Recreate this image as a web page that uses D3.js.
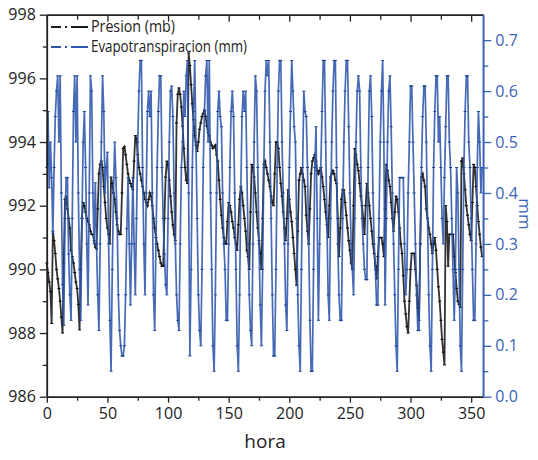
<!DOCTYPE html>
<html><head><meta charset="utf-8">
<script src="https://cdn.jsdelivr.net/npm/d3@7"></script>
<style>
body{margin:0;background:#fff;}
text{font-family:"Open Sans","Noto Sans",sans-serif;}
</style></head>
<body><svg id="c" width="538" height="460"></svg>
<script>
// ---- data (hourly) ----
const presion = [
990.2,989.9,989.6,989.3,988.3,991.2,990.9,990.5,990.0,989.7,989.4,989.0,988.5,988.0,990.2,992.2,992.3,991.9,991.6,991.3,
990.6,990.4,990.2,989.9,989.6,989.4,988.9,988.1,990.0,991.6,992.1,992.0,991.8,991.6,991.5,991.4,991.2,991.1,991.1,990.9,
990.7,990.65,991.9,993.0,993.3,993.4,993.2,992.6,992.1,991.6,991.3,991.1,990.8,992.9,992.7,992.4,992.2,991.8,991.4,991.2,
991.1,991.1,992.4,993.8,993.85,993.6,993.3,993.0,992.8,992.7,992.6,992.5,993.4,994.2,994.1,993.6,993.2,993.0,992.8,992.6,
992.4,992.2,992.1,992.0,992.2,992.4,992.3,992.0,991.6,991.3,991.0,990.8,990.6,990.4,990.2,990.1,990.1,991.6,992.9,993.4,
993.3,992.8,992.3,991.8,991.4,991.1,990.9,994.6,995.5,995.7,995.5,995.1,994.5,993.8,993.2,992.8,992.7,996.8,996.4,995.8,
995.2,994.7,994.2,993.9,993.7,994.0,994.4,994.6,994.8,994.9,995.0,994.8,994.5,994.3,994.2,994.0,993.9,993.8,993.85,993.9,
993.6,993.4,992.8,992.2,991.7,991.3,991.0,990.8,990.8,991.5,992.1,992.0,991.8,991.5,991.3,991.0,990.8,990.6,991.4,992.2,
992.6,992.4,992.0,991.6,991.2,990.6,990.4,990.0,991.8,993.3,993.2,992.9,992.4,991.8,991.3,990.9,990.5,990.0,991.6,993.3,
993.4,993.2,993.0,992.8,992.6,992.3,992.1,992.0,993.0,994.0,994.0,993.8,993.2,992.7,992.3,991.8,991.3,990.9,991.6,992.5,
992.2,991.8,991.5,991.0,990.5,990.0,989.5,991.2,992.8,993.0,993.2,993.0,992.8,992.6,991.7,991.2,990.8,991.9,993.0,993.4,
993.5,993.6,993.4,993.1,993.0,993.1,993.2,992.9,992.6,992.2,991.8,991.4,991.0,992.0,992.9,993.0,993.1,993.0,992.8,992.7,
991.6,990.4,991.3,992.2,992.5,992.5,992.1,991.7,991.3,990.9,990.6,990.2,990.0,992.0,993.8,993.6,993.3,993.1,992.7,992.3,
992.0,991.6,991.1,992.0,992.7,992.4,992.0,991.6,991.2,990.8,990.5,990.1,989.7,990.4,991.0,991.0,991.0,990.8,990.4,991.9,
993.3,993.1,992.8,992.6,992.1,991.6,991.2,991.8,992.3,992.2,991.8,991.3,990.8,990.5,989.8,989.0,988.6,988.2,988.0,989.0,
990.0,990.5,990.5,990.5,990.0,989.5,988.8,988.4,990.8,992.9,993.0,992.8,992.6,991.9,991.6,991.3,991.1,990.8,990.5,990.8,
991.0,990.6,990.0,989.45,989.0,988.4,987.8,987.4,987.0,992.0,991.5,990.1,991.1,991.1,991.1,991.1,990.4,989.9,989.4,989.0,
988.9,988.8,993.4,993.5,993.0,992.5,992.0,991.7,991.4,991.1,990.9,992.1,993.3,993.2,992.6,992.0,991.5,991.1,990.7,990.4
];
const evapo = [
0.45,0.56,0.41,0.50,0.43,0.32,0.45,0.55,0.60,0.63,0.50,0.63,0.40,0.22,0.14,0.35,0.43,0.43,0.28,0.20,
0.15,0.35,0.56,0.63,0.50,0.63,0.40,0.25,0.15,0.35,0.50,0.56,0.45,0.30,0.18,0.40,0.63,0.60,0.40,0.30,
0.42,0.30,0.20,0.13,0.30,0.50,0.63,0.56,0.40,0.45,0.48,0.30,0.15,0.05,0.25,0.40,0.50,0.43,0.35,0.20,
0.13,0.10,0.08,0.08,0.10,0.20,0.33,0.43,0.30,0.18,0.30,0.43,0.30,0.20,0.35,0.50,0.60,0.66,0.66,0.45,
0.30,0.20,0.40,0.56,0.60,0.55,0.60,0.40,0.20,0.13,0.30,0.45,0.56,0.63,0.63,0.45,0.35,0.28,0.22,0.20,
0.35,0.50,0.60,0.61,0.55,0.40,0.30,0.20,0.15,0.13,0.30,0.45,0.50,0.60,0.55,0.63,0.66,0.40,0.08,0.25,
0.45,0.56,0.66,0.50,0.35,0.20,0.13,0.10,0.25,0.45,0.56,0.63,0.66,0.50,0.66,0.40,0.25,0.10,0.05,0.20,
0.40,0.56,0.60,0.55,0.53,0.40,0.30,0.25,0.15,0.15,0.30,0.45,0.56,0.60,0.55,0.40,0.25,0.10,0.05,0.20,
0.40,0.55,0.60,0.56,0.60,0.45,0.30,0.20,0.13,0.10,0.30,0.50,0.63,0.60,0.45,0.30,0.18,0.10,0.25,0.45,
0.60,0.66,0.63,0.66,0.50,0.35,0.20,0.08,0.08,0.25,0.45,0.60,0.66,0.66,0.50,0.40,0.30,0.18,0.13,0.30,
0.45,0.56,0.66,0.60,0.53,0.50,0.35,0.20,0.10,0.05,0.25,0.45,0.60,0.56,0.55,0.45,0.30,0.15,0.05,0.05,
0.25,0.45,0.53,0.35,0.15,0.30,0.45,0.56,0.66,0.66,0.50,0.35,0.20,0.15,0.35,0.50,0.60,0.66,0.66,0.45,
0.30,0.20,0.15,0.15,0.35,0.50,0.60,0.66,0.66,0.53,0.40,0.30,0.25,0.20,0.35,0.50,0.60,0.63,0.60,0.45,
0.35,0.30,0.25,0.23,0.23,0.45,0.60,0.63,0.55,0.40,0.30,0.25,0.18,0.18,0.35,0.50,0.60,0.66,0.50,0.18,
0.35,0.50,0.60,0.63,0.53,0.40,0.30,0.20,0.10,0.05,0.25,0.43,0.43,0.43,0.43,0.30,0.20,0.25,0.40,0.50,
0.61,0.61,0.50,0.40,0.30,0.20,0.13,0.13,0.30,0.45,0.55,0.61,0.61,0.50,0.35,0.20,0.10,0.05,0.25,0.45,
0.56,0.63,0.63,0.50,0.55,0.45,0.35,0.30,0.43,0.53,0.63,0.63,0.50,0.45,0.35,0.25,0.15,0.25,0.45,0.40,
0.25,0.10,0.05,0.25,0.45,0.56,0.63,0.63,0.50,0.45,0.35,0.25,0.15,0.15,0.30,0.45,0.56,0.50,0.40,0.45
];
const hours = presion.map((d,i)=>i);
const xTicks = [0,50,100,150,200,250,300,350];
const xMinor = [25,75,125,175,225,275,325];
const yLeftTicks = [986,988,990,992,994,996,998];
const yLeftMinor = [987,989,991,993,995,997];
const yRightTicks = [0.0,0.1,0.2,0.3,0.4,0.5,0.6,0.7];
const yRightMinor = [0.05,0.15,0.25,0.35,0.45,0.55,0.65];
const seriesNames = ["Presion (mb)","Evapotranspiracion (mm)"];
const xLabel = "hora", yRightLabel = "mm";

// ---- layout ----
const L=46.8, R=483.3, T=14.7, B=396.7;
const blue="#2c55ab", black="#1c1c1c", axisBlue="#3a62b5";
const svg=d3.select("#c");
const x=d3.scaleLinear().domain([0,360]).range([L,R]);
const yL=d3.scaleLinear().domain([986,998]).range([B,T]);
const yR=d3.scaleLinear().domain([0,0.75]).range([B,T]);

// series
const lineP=d3.line().x((d,i)=>x(hours[i])).y(d=>yL(d));
const lineE=d3.line().x((d,i)=>x(hours[i])).y(d=>yR(d));
svg.append("path").attr("d",lineP(presion)).attr("fill","none").attr("stroke",black).attr("stroke-width",1.8).attr("stroke-opacity",0.9);
svg.append("g").selectAll("line").data(presion).join("line")
  .attr("x1",(d,i)=>x(hours[i])-1.5).attr("x2",(d,i)=>x(hours[i])+1.5)
  .attr("y1",d=>yL(d)).attr("y2",d=>yL(d)).attr("stroke","#000").attr("stroke-width",1);
svg.append("path").attr("d",lineE(evapo)).attr("fill","none").attr("stroke",blue).attr("stroke-width",1.7).attr("stroke-opacity",0.88);
svg.append("g").selectAll("line").data(evapo).join("line")
  .attr("x1",(d,i)=>x(hours[i])-1.5).attr("x2",(d,i)=>x(hours[i])+1.5)
  .attr("y1",d=>yR(d)).attr("y2",d=>yR(d)).attr("stroke","#1d4596").attr("stroke-width",1);

// axes
function styleAxis(g,color){
  g.select(".domain").attr("stroke",color).attr("stroke-width",1.5);
  g.selectAll(".tick line").attr("stroke",color).attr("stroke-width",1.3);
  g.selectAll(".tick text").attr("fill",color).style("font-size","16px").style("font-family","'Open Sans','Noto Sans',sans-serif");
}
// bottom
let gb=svg.append("g").attr("transform",`translate(0,${B})`).call(d3.axisBottom(x).tickValues(xTicks).tickSize(6).tickPadding(5).tickSizeOuter(0));
styleAxis(gb,"#222");
let gbm=svg.append("g").attr("transform",`translate(0,${B})`).call(d3.axisBottom(x).tickValues(xMinor).tickSize(4).tickFormat("").tickSizeOuter(0));
styleAxis(gbm,"#222");
// top
let gt=svg.append("g").attr("transform",`translate(0,${T})`).call(d3.axisBottom(x).tickValues(xTicks).tickSize(7).tickFormat("").tickSizeOuter(0));
styleAxis(gt,"#222");
let gtm=svg.append("g").attr("transform",`translate(0,${T})`).call(d3.axisBottom(x).tickValues(xMinor).tickSize(5).tickFormat("").tickSizeOuter(0));
styleAxis(gtm,"#222");
// left
let gl=svg.append("g").attr("transform",`translate(${L},0)`).call(d3.axisLeft(yL).tickValues(yLeftTicks).tickSize(7).tickPadding(4).tickSizeOuter(0));
styleAxis(gl,"#222");
let glm=svg.append("g").attr("transform",`translate(${L},0)`).call(d3.axisLeft(yL).tickValues(yLeftMinor).tickSize(4).tickFormat("").tickSizeOuter(0));
styleAxis(glm,"#222");
// right
let gr=svg.append("g").attr("transform",`translate(${R},0)`).call(d3.axisRight(yR).tickValues(yRightTicks).tickSize(8).tickPadding(4).tickFormat(d3.format(".1f")).tickSizeOuter(0));
styleAxis(gr,axisBlue);
let grm=svg.append("g").attr("transform",`translate(${R},0)`).call(d3.axisRight(yR).tickValues(yRightMinor).tickSize(5).tickFormat("").tickSizeOuter(0));
styleAxis(grm,axisBlue);
gr.select(".domain").attr("d",`M0,${B}V${T}`);

// axis titles
svg.append("text").attr("x",(L+R)/2).attr("y",448).attr("text-anchor","middle")
  .style("font-size","19px").attr("fill","#222").text(xLabel);
svg.append("text").attr("transform",`translate(519,214) rotate(90)`).attr("text-anchor","middle")
  .style("font-size","17px").attr("fill",axisBlue).text(yRightLabel);

// legend
const leg=[{name:seriesNames[0],color:black,y:27,w:84},{name:seriesNames[1],color:blue,y:47,w:156}];
leg.forEach(l=>{
  svg.append("line").attr("x1",51).attr("x2",88).attr("y1",l.y).attr("y2",l.y)
    .attr("stroke",l.color).attr("stroke-width",2).attr("stroke-dasharray","10,4,2,4,17");
  svg.append("text").attr("x",91).attr("y",l.y+5).style("font-size","16px").attr("fill","#222")
    .attr("textLength",l.w).attr("lengthAdjust","spacingAndGlyphs").text(l.name);
});
</script></body></html>
